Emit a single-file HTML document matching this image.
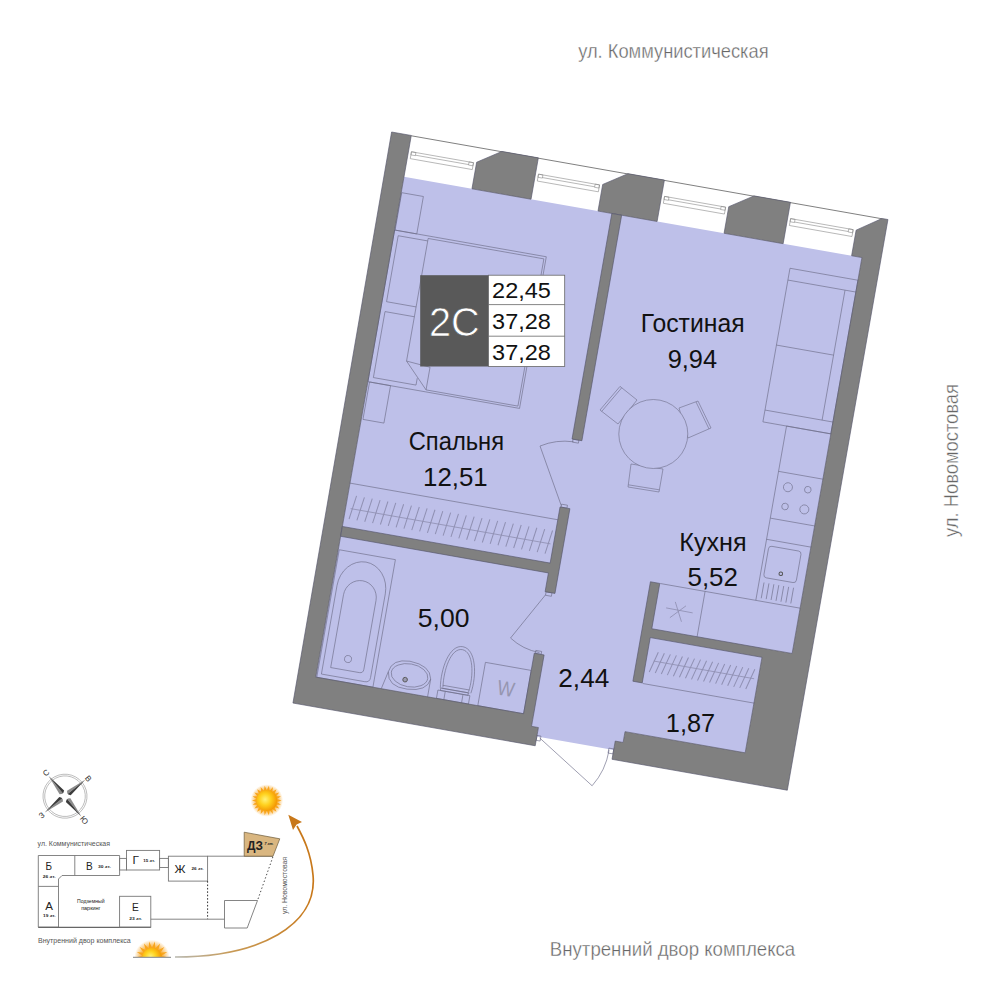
<!DOCTYPE html>
<html><head><meta charset="utf-8"><title>2С</title>
<style>html,body{margin:0;padding:0;background:#fff}svg{display:block}text{font-family:"Liberation Sans",sans-serif}</style>
</head><body>
<svg width="1000" height="1000" viewBox="0 0 1000 1000">
<rect width="1000" height="1000" fill="#fff"/>
<g transform="translate(391.6,132) rotate(10)">
<polygon points="20,42 485,42 485,444 456,444 456,550 334,550 334,561 326,561 326,570 248,570 248,561 241,561 241,550 20,550" fill="#bec0e9" stroke="none" stroke-width="0" />
<rect x="20.5" y="58" width="22" height="38" rx="0" fill="none" stroke="#6e6e8a" stroke-width="0.62"/>
<rect x="20" y="96" width="154" height="154" rx="0" fill="none" stroke="#6e6e8a" stroke-width="0.62"/>
<polyline points="54.5,223 54.5,98.5 172,98.5 172,248 78.7,248" fill="none" stroke="#6e6e8a" stroke-width="0.62"/>
<polygon points="54.5,223 78.7,225 78.7,248" fill="none" stroke="#6e6e8a" stroke-width="0.62"/>
<polyline points="54.5,101 24.5,101 24.5,168 54.5,168" fill="none" stroke="#6e6e8a" stroke-width="0.62"/>
<polyline points="54.5,178 24.7,178 24.7,245 68,245 68,238" fill="none" stroke="#6e6e8a" stroke-width="0.62"/>
<rect x="21.7" y="250" width="21.3" height="38" rx="0" fill="none" stroke="#6e6e8a" stroke-width="0.62"/>
<line x1="20" y1="353" x2="231" y2="353" stroke="#6e6e8a" stroke-width="0.62"/>
<line x1="25" y1="378" x2="228" y2="378" stroke="#8d8daf" stroke-width="0.75"/>
<line x1="28.7" y1="364.5" x2="25.3" y2="388.5" stroke="#8f8fb2" stroke-width="1.0"/>
<line x1="36.66" y1="364.5" x2="33.26" y2="388.5" stroke="#8f8fb2" stroke-width="1.0"/>
<line x1="44.62" y1="364.5" x2="41.22" y2="388.5" stroke="#8f8fb2" stroke-width="1.0"/>
<line x1="52.58" y1="364.5" x2="49.18" y2="388.5" stroke="#8f8fb2" stroke-width="1.0"/>
<line x1="60.54" y1="364.5" x2="57.14" y2="388.5" stroke="#8f8fb2" stroke-width="1.0"/>
<line x1="68.5" y1="364.5" x2="65.1" y2="388.5" stroke="#8f8fb2" stroke-width="1.0"/>
<line x1="76.46" y1="364.5" x2="73.06" y2="388.5" stroke="#8f8fb2" stroke-width="1.0"/>
<line x1="84.42" y1="364.5" x2="81.02" y2="388.5" stroke="#8f8fb2" stroke-width="1.0"/>
<line x1="92.38" y1="364.5" x2="88.98" y2="388.5" stroke="#8f8fb2" stroke-width="1.0"/>
<line x1="100.34" y1="364.5" x2="96.94" y2="388.5" stroke="#8f8fb2" stroke-width="1.0"/>
<line x1="108.3" y1="364.5" x2="104.9" y2="388.5" stroke="#8f8fb2" stroke-width="1.0"/>
<line x1="116.26" y1="364.5" x2="112.86" y2="388.5" stroke="#8f8fb2" stroke-width="1.0"/>
<line x1="124.22" y1="364.5" x2="120.82" y2="388.5" stroke="#8f8fb2" stroke-width="1.0"/>
<line x1="132.18" y1="364.5" x2="128.78" y2="388.5" stroke="#8f8fb2" stroke-width="1.0"/>
<line x1="140.14" y1="364.5" x2="136.74" y2="388.5" stroke="#8f8fb2" stroke-width="1.0"/>
<line x1="148.1" y1="364.5" x2="144.7" y2="388.5" stroke="#8f8fb2" stroke-width="1.0"/>
<line x1="156.06" y1="364.5" x2="152.66" y2="388.5" stroke="#8f8fb2" stroke-width="1.0"/>
<line x1="164.02" y1="364.5" x2="160.62" y2="388.5" stroke="#8f8fb2" stroke-width="1.0"/>
<line x1="171.98" y1="364.5" x2="168.58" y2="388.5" stroke="#8f8fb2" stroke-width="1.0"/>
<line x1="179.94" y1="364.5" x2="176.54" y2="388.5" stroke="#8f8fb2" stroke-width="1.0"/>
<line x1="187.9" y1="364.5" x2="184.5" y2="388.5" stroke="#8f8fb2" stroke-width="1.0"/>
<line x1="195.86" y1="364.5" x2="192.46" y2="388.5" stroke="#8f8fb2" stroke-width="1.0"/>
<line x1="203.82" y1="364.5" x2="200.42" y2="388.5" stroke="#8f8fb2" stroke-width="1.0"/>
<line x1="211.78" y1="364.5" x2="208.38" y2="388.5" stroke="#8f8fb2" stroke-width="1.0"/>
<line x1="219.74" y1="364.5" x2="216.34" y2="388.5" stroke="#8f8fb2" stroke-width="1.0"/>
<line x1="227.7" y1="364.5" x2="224.3" y2="388.5" stroke="#8f8fb2" stroke-width="1.0"/>
<rect x="416" y="65" width="69" height="156" rx="0" fill="none" stroke="#6e6e8a" stroke-width="0.62"/>
<line x1="416" y1="77" x2="485" y2="77" stroke="#6e6e8a" stroke-width="0.62"/>
<line x1="416" y1="209" x2="485" y2="209" stroke="#6e6e8a" stroke-width="0.62"/>
<line x1="474" y1="77" x2="474" y2="209" stroke="#6e6e8a" stroke-width="0.62"/>
<line x1="416" y1="143" x2="474" y2="143" stroke="#6e6e8a" stroke-width="0.62"/>
<polyline points="485,221 440,221 440,398 343,398" fill="none" stroke="#6e6e8a" stroke-width="0.62"/>
<line x1="440" y1="267" x2="485" y2="267" stroke="#6e6e8a" stroke-width="0.62"/>
<line x1="440" y1="314.5" x2="485" y2="314.5" stroke="#6e6e8a" stroke-width="0.62"/>
<line x1="440" y1="336" x2="485" y2="336" stroke="#6e6e8a" stroke-width="0.62"/>
<line x1="440" y1="398" x2="485" y2="398" stroke="#6e6e8a" stroke-width="0.62"/>
<circle cx="452" cy="281" r="4.5" fill="none" stroke="#6e6e8a" stroke-width="0.62"/>
<circle cx="472" cy="280" r="3.3" fill="none" stroke="#6e6e8a" stroke-width="0.62"/>
<circle cx="452.5" cy="300.5" r="3.3" fill="none" stroke="#6e6e8a" stroke-width="0.62"/>
<circle cx="472" cy="300" r="4.5" fill="none" stroke="#6e6e8a" stroke-width="0.62"/>
<rect x="443.5" y="342" width="33" height="32" rx="3" fill="none" stroke="#6e6e8a" stroke-width="0.62"/>
<circle cx="460" cy="367.5" r="1.8" fill="none" stroke="#555" stroke-width="1"/>
<line x1="445" y1="379" x2="445" y2="395" stroke="#6e6e8a" stroke-width="0.62"/>
<line x1="450" y1="379" x2="450" y2="395" stroke="#6e6e8a" stroke-width="0.62"/>
<line x1="455" y1="379" x2="455" y2="395" stroke="#6e6e8a" stroke-width="0.62"/>
<line x1="460" y1="379" x2="460" y2="395" stroke="#6e6e8a" stroke-width="0.62"/>
<line x1="465" y1="379" x2="465" y2="395" stroke="#6e6e8a" stroke-width="0.62"/>
<line x1="470" y1="379" x2="470" y2="395" stroke="#6e6e8a" stroke-width="0.62"/>
<line x1="475" y1="379" x2="475" y2="395" stroke="#6e6e8a" stroke-width="0.62"/>
<line x1="388.5" y1="398" x2="388.5" y2="444" stroke="#6e6e8a" stroke-width="0.62"/>
<line x1="353" y1="421" x2="380" y2="421.3" stroke="#8d8daf" stroke-width="0.75"/>
<line x1="358.4" y1="430" x2="372.2" y2="415.5" stroke="#8d8daf" stroke-width="0.75"/>
<line x1="361" y1="413.5" x2="370.5" y2="432" stroke="#8d8daf" stroke-width="0.75"/>
<line x1="343" y1="499.5" x2="457" y2="499.5" stroke="#6e6e8a" stroke-width="0.62"/>
<line x1="350" y1="475.5" x2="452" y2="475.5" stroke="#8d8daf" stroke-width="0.75"/>
<line x1="353" y1="466" x2="347.5" y2="487" stroke="#8f8fb2" stroke-width="1.0"/>
<line x1="359.125" y1="466" x2="353.625" y2="487" stroke="#8f8fb2" stroke-width="1.0"/>
<line x1="365.25" y1="466" x2="359.75" y2="487" stroke="#8f8fb2" stroke-width="1.0"/>
<line x1="371.375" y1="466" x2="365.875" y2="487" stroke="#8f8fb2" stroke-width="1.0"/>
<line x1="377.5" y1="466" x2="372" y2="487" stroke="#8f8fb2" stroke-width="1.0"/>
<line x1="383.625" y1="466" x2="378.125" y2="487" stroke="#8f8fb2" stroke-width="1.0"/>
<line x1="389.75" y1="466" x2="384.25" y2="487" stroke="#8f8fb2" stroke-width="1.0"/>
<line x1="395.875" y1="466" x2="390.375" y2="487" stroke="#8f8fb2" stroke-width="1.0"/>
<line x1="402" y1="466" x2="396.5" y2="487" stroke="#8f8fb2" stroke-width="1.0"/>
<line x1="408.125" y1="466" x2="402.625" y2="487" stroke="#8f8fb2" stroke-width="1.0"/>
<line x1="414.25" y1="466" x2="408.75" y2="487" stroke="#8f8fb2" stroke-width="1.0"/>
<line x1="420.375" y1="466" x2="414.875" y2="487" stroke="#8f8fb2" stroke-width="1.0"/>
<line x1="426.5" y1="466" x2="421" y2="487" stroke="#8f8fb2" stroke-width="1.0"/>
<line x1="432.625" y1="466" x2="427.125" y2="487" stroke="#8f8fb2" stroke-width="1.0"/>
<line x1="438.75" y1="466" x2="433.25" y2="487" stroke="#8f8fb2" stroke-width="1.0"/>
<line x1="444.875" y1="466" x2="439.375" y2="487" stroke="#8f8fb2" stroke-width="1.0"/>
<line x1="451" y1="466" x2="445.5" y2="487" stroke="#8f8fb2" stroke-width="1.0"/>
<rect x="21" y="420.5" width="57" height="129.5" rx="0" fill="none" stroke="#6e6e8a" stroke-width="0.62"/>
<path d="M25,546 L25,456 A24.5,28 0 0 1 74,456 L74,541 Q74,546 69,546 Z" fill="none" stroke="#6e6e8a" stroke-width="0.62"/>
<path d="M33,538 L33,464 A16.5,17 0 0 1 66,464 L66,534 Q66,538 62,538 Z" fill="none" stroke="#6e6e8a" stroke-width="0.62"/>
<circle cx="48.6" cy="526.6" r="3.5" fill="none" stroke="#6e6e8a" stroke-width="0.62"/>
<path d="M86.5,550 L90.5,532 Q92,518.5 110,518 Q131,518.5 133.5,532 L133.5,550" fill="none" stroke="#6e6e8a" stroke-width="0.62"/>
<path d="M90.5,532 Q92,547 112,546 Q132,545 133.5,532" fill="none" stroke="#6e6e8a" stroke-width="0.62"/>
<ellipse cx="112" cy="532" rx="18.5" ry="11.5" fill="none" stroke="#6e6e8a" stroke-width="0.62"/>
<circle cx="108.4" cy="537" r="2.3" fill="#9a9ab0" stroke="#555" stroke-width="0.9"/>
<path d="M144.5,539 C141.5,520 146,494.5 159.5,494.5 C173,494.5 178.5,520 175.5,539" fill="none" stroke="#6e6e8a" stroke-width="0.62"/>
<path d="M147,538 C144.5,521 148,497.5 159.5,497.5 C171,497.5 175.5,521 173,538" fill="none" stroke="#6e6e8a" stroke-width="0.62"/>
<line x1="146.5" y1="536" x2="173.5" y2="536" stroke="#6e6e8a" stroke-width="0.62"/>
<line x1="146" y1="539" x2="174" y2="539" stroke="#6e6e8a" stroke-width="0.62"/>
<rect x="142.5" y="541.5" width="32.5" height="8.5" rx="0" fill="none" stroke="#6e6e8a" stroke-width="0.62"/>
<rect x="145" y="539" width="28" height="2.5" rx="0" fill="none" stroke="#6e6e8a" stroke-width="0.62"/>
<line x1="150" y1="541.5" x2="150" y2="550" stroke="#6e6e8a" stroke-width="0.62"/>
<line x1="168" y1="541.5" x2="168" y2="550" stroke="#6e6e8a" stroke-width="0.62"/>
<rect x="184.5" y="506" width="46.5" height="44" rx="0" fill="none" stroke="#6e6e8a" stroke-width="0.62"/>
<rect x="232" y="271" width="6" height="3" rx="0" fill="none" stroke="#6e6e8a" stroke-width="0.62"/>
<rect x="232" y="337" width="6" height="3" rx="0" fill="none" stroke="#6e6e8a" stroke-width="0.62"/>
<path d="M232,338.5 L200.7,283.5 A64,64 0 0 1 233,273.5" fill="none" stroke="#6e6e8a" stroke-width="0.62"/>
<rect x="232" y="426" width="6" height="3.5" rx="0" fill="none" stroke="#6e6e8a" stroke-width="0.62"/>
<rect x="232" y="485.5" width="6" height="3" rx="0" fill="none" stroke="#6e6e8a" stroke-width="0.62"/>
<path d="M232,429 L205,477.7 A58,58 0 0 0 236,487" fill="none" stroke="#6e6e8a" stroke-width="0.62"/>
<path d="M251,571 L311,609 A71,71 0 0 0 321.5,571" fill="none" stroke="#6e6e8a" stroke-width="0.62"/>
<rect x="248" y="569" width="4" height="5" rx="0" fill="none" stroke="#6e6e8a" stroke-width="0.62"/>
<rect x="321" y="569" width="5" height="5" rx="0" fill="none" stroke="#6e6e8a" stroke-width="0.62"/>
<rect x="23" y="16" width="63" height="7" rx="0" fill="none" stroke="#858585" stroke-width="0.55"/>
<line x1="27.5" y1="18.7" x2="81.5" y2="18.7" stroke="#858585" stroke-width="0.55"/>
<rect x="23" y="16" width="4.5" height="3.2" rx="0" fill="none" stroke="#858585" stroke-width="0.55"/>
<rect x="81.5" y="16" width="4.5" height="3.2" rx="0" fill="none" stroke="#858585" stroke-width="0.55"/>
<rect x="152" y="16" width="62" height="7" rx="0" fill="none" stroke="#858585" stroke-width="0.55"/>
<line x1="156.5" y1="18.7" x2="209.5" y2="18.7" stroke="#858585" stroke-width="0.55"/>
<rect x="152" y="16" width="4.5" height="3.2" rx="0" fill="none" stroke="#858585" stroke-width="0.55"/>
<rect x="209.5" y="16" width="4.5" height="3.2" rx="0" fill="none" stroke="#858585" stroke-width="0.55"/>
<rect x="280" y="16" width="62" height="7" rx="0" fill="none" stroke="#858585" stroke-width="0.55"/>
<line x1="284.5" y1="18.7" x2="337.5" y2="18.7" stroke="#858585" stroke-width="0.55"/>
<rect x="280" y="16" width="4.5" height="3.2" rx="0" fill="none" stroke="#858585" stroke-width="0.55"/>
<rect x="337.5" y="16" width="4.5" height="3.2" rx="0" fill="none" stroke="#858585" stroke-width="0.55"/>
<rect x="408" y="16" width="63.5" height="7" rx="0" fill="none" stroke="#858585" stroke-width="0.55"/>
<line x1="412.5" y1="18.7" x2="467" y2="18.7" stroke="#858585" stroke-width="0.55"/>
<rect x="408" y="16" width="4.5" height="3.2" rx="0" fill="none" stroke="#858585" stroke-width="0.55"/>
<rect x="467" y="16" width="4.5" height="3.2" rx="0" fill="none" stroke="#858585" stroke-width="0.55"/>
<line x1="20" y1="0.3" x2="498" y2="0.3" stroke="#555" stroke-width="0.7"/>
<polygon points="0,0 20,0 20,550 231,550 231,488.5 241,488.5 241,561 248,561 248,579.5 2,579.5" fill="#808080" stroke="#55556a" stroke-width="0.6" />
<polygon points="89,15 112,0 149,0 149,42 89,42" fill="#808080" stroke="#55556a" stroke-width="0.6" />
<polygon points="217,15 240,0 277,0 277,42 217,42" fill="#808080" stroke="#55556a" stroke-width="0.6" />
<polygon points="345,15 368,0 405,0 405,42 345,42" fill="#808080" stroke="#55556a" stroke-width="0.6" />
<polygon points="474.5,16 498,0 504,0 504,579.5 326,579.5 326,561 334,561 334,550 456,550 456,453 342.5,453 342.5,499 333,499 333,398 342.5,398 342.5,444 485,444 485,42 474.5,42" fill="#808080" stroke="#55556a" stroke-width="0.6" />
<polygon points="231,42 241,42 241,271 231,271" fill="#808080" stroke="#55556a" stroke-width="0.6" />
<polygon points="231,340 241,340 241,426 231,426 231,407 20,407 20,397 231,397" fill="#808080" stroke="#55556a" stroke-width="0.6" />
</g>
<polygon points="620,386.4 600,410 618,424 637,400" fill="#bec0e9" stroke="#6e6e8a" stroke-width="0.62" /><line x1="621.678" y1="387.822" x2="601.678" y2="411.422" stroke="#6e6e8a" stroke-width="0.62"/>
<polygon points="679,408 698,401 711,428 688,438" fill="#bec0e9" stroke="#6e6e8a" stroke-width="0.62" /><line x1="696.018" y1="401.954" x2="709.018" y2="428.954" stroke="#6e6e8a" stroke-width="0.62"/>
<polygon points="631,464 663,469 659,492 628,487" fill="#bec0e9" stroke="#6e6e8a" stroke-width="0.62" /><line x1="659.35" y1="489.828" x2="628.35" y2="484.828" stroke="#6e6e8a" stroke-width="0.62"/>
<circle cx="653.3" cy="434" r="34.5" fill="#bec0e9" stroke="#6e6e8a" stroke-width="0.62"/>
<rect x="420.2" y="275.2" width="68.3" height="91.3" fill="#595959"/>
<rect x="488.5" y="275.2" width="76.2" height="91.3" fill="#fff" stroke="#666" stroke-width="0.8"/>
<line x1="488.5" y1="304.6" x2="564.7" y2="304.6" stroke="#666" stroke-width="0.8"/>
<line x1="488.5" y1="336.2" x2="564.7" y2="336.2" stroke="#666" stroke-width="0.8"/>
<text x="428.90" y="335.6" font-size="41" textLength="50.86" lengthAdjust="spacingAndGlyphs" fill="#fff" font-weight="normal" stroke="#595959" stroke-width="0.7">2С</text>
<text x="492.12" y="297.6" font-size="22.4" textLength="58.76" lengthAdjust="spacingAndGlyphs" fill="#111" font-weight="normal" >22,45</text>
<text x="492.12" y="328.8" font-size="22.4" textLength="58.76" lengthAdjust="spacingAndGlyphs" fill="#111" font-weight="normal" >37,28</text>
<text x="492.12" y="360.2" font-size="22.4" textLength="58.76" lengthAdjust="spacingAndGlyphs" fill="#111" font-weight="normal" >37,28</text>
<text x="408.73" y="450.4" font-size="26.3" textLength="95.35" lengthAdjust="spacingAndGlyphs" fill="#111" font-weight="normal" >Спальня</text>
<text x="423.05" y="485.8" font-size="26" textLength="64.64" lengthAdjust="spacingAndGlyphs" fill="#111" font-weight="normal" >12,51</text>
<text x="640.71" y="332.4" font-size="26.3" textLength="103.96" lengthAdjust="spacingAndGlyphs" fill="#111" font-weight="normal" >Гостиная</text>
<text x="667.73" y="367.6" font-size="26" textLength="49.36" lengthAdjust="spacingAndGlyphs" fill="#111" font-weight="normal" >9,94</text>
<text x="679.22" y="550.8" font-size="26.3" textLength="67.36" lengthAdjust="spacingAndGlyphs" fill="#111" font-weight="normal" >Кухня</text>
<text x="687.47" y="585.8" font-size="26" textLength="50.43" lengthAdjust="spacingAndGlyphs" fill="#111" font-weight="normal" >5,52</text>
<text x="417.86" y="626.6" font-size="26" textLength="51.66" lengthAdjust="spacingAndGlyphs" fill="#111" font-weight="normal" >5,00</text>
<text x="558.32" y="687.2" font-size="26" textLength="50.93" lengthAdjust="spacingAndGlyphs" fill="#111" font-weight="normal" >2,44</text>
<text x="665.81" y="732" font-size="26" textLength="49.31" lengthAdjust="spacingAndGlyphs" fill="#111" font-weight="normal" >1,87</text>
<text transform="translate(506,688.6) rotate(10)" x="-8.6" y="7.2" font-size="21" textLength="17.2" lengthAdjust="spacingAndGlyphs" fill="#9696b0">W</text>
<text x="578.18" y="57.8" font-size="19.8" textLength="190.44" lengthAdjust="spacingAndGlyphs" fill="#666" font-weight="normal" stroke="#fff" stroke-width="0.35">ул. Коммунистическая</text>
<text x="549.79" y="956.2" font-size="19.8" textLength="245.42" lengthAdjust="spacingAndGlyphs" fill="#666" font-weight="normal" stroke="#fff" stroke-width="0.35">Внутренний двор комплекса</text>
<g transform="translate(958.3,536) rotate(-90)"><text x="-1.01" y="0" font-size="19.8" textLength="153.03" lengthAdjust="spacingAndGlyphs" fill="#666" font-weight="normal" stroke="#fff" stroke-width="0.35">ул. Новомостовая</text></g>
<g transform="translate(65,796.2) rotate(-39)"><circle r="22" fill="none" stroke="#777" stroke-width="0.45"/><circle r="20.3" fill="none" stroke="#777" stroke-width="0.45"/><g transform="rotate(0)"><polygon points="0,-26 -2.9,-5 0,-3" fill="#8c8c8c"/><polygon points="0,-26 2.9,-5 0,-3" fill="#3c3c3c"/></g><g transform="rotate(90)"><polygon points="0,-26 -2.9,-5 0,-3" fill="#8c8c8c"/><polygon points="0,-26 2.9,-5 0,-3" fill="#3c3c3c"/></g><g transform="rotate(180)"><polygon points="0,-26 -2.9,-5 0,-3" fill="#8c8c8c"/><polygon points="0,-26 2.9,-5 0,-3" fill="#3c3c3c"/></g><g transform="rotate(270)"><polygon points="0,-26 -2.9,-5 0,-3" fill="#8c8c8c"/><polygon points="0,-26 2.9,-5 0,-3" fill="#3c3c3c"/></g><circle r="3.6" fill="#fff"/><text transform="translate(0,-27.5) rotate(0)" font-size="8" text-anchor="middle" fill="#333">С</text><text transform="translate(-30.2,3) rotate(0)" font-size="8" text-anchor="middle" fill="#333">З</text><text transform="translate(26.4,-1.7) rotate(90)" font-size="8" text-anchor="start" fill="#333">В</text><text transform="translate(-2.9,26.7) rotate(90)" font-size="8" text-anchor="start" fill="#333">Ю</text></g>
<path d="M38.3,855.5 H119.6 V875.5 H62 L58.5,879 V927.2 H38.3 Z" fill="none" stroke="#777" stroke-width="0.9"/>
<line x1="74.8" y1="855.5" x2="74.8" y2="875.5" stroke="#777" stroke-width="0.9"/>
<line x1="38.3" y1="886.4" x2="58.5" y2="886.4" stroke="#777" stroke-width="0.9"/>
<line x1="38.3" y1="927.4" x2="150.8" y2="927.4" stroke="#666" stroke-width="1.3"/>
<rect x="119.6" y="896.3" width="31.2" height="30.9" fill="none" stroke="#777" stroke-width="0.9"/>
<rect x="126.5" y="850.4" width="33.1" height="19.6" fill="none" stroke="#777" stroke-width="0.9"/>
<rect x="119.6" y="858.4" width="6.9" height="11.6" fill="none" stroke="#777" stroke-width="0.9"/>
<rect x="159.6" y="858.4" width="8.8" height="9.1" fill="none" stroke="#777" stroke-width="0.9"/>
<rect x="168.4" y="856.2" width="39.2" height="24.9" fill="none" stroke="#777" stroke-width="0.9"/>
<line x1="207.6" y1="856.2" x2="273" y2="856.2" stroke="#777" stroke-width="0.9"/>
<line x1="207.6" y1="881.1" x2="207.6" y2="919.2" stroke="#333" stroke-width="1" stroke-dasharray="1.6,1.8"/>
<line x1="150.8" y1="919.2" x2="224.5" y2="919.2" stroke="#777" stroke-width="0.9"/>
<polygon points="224.5,900.5 257.5,900.5 247.2,928 224.5,928" fill="none" stroke="#777" stroke-width="0.9"/>
<line x1="272.9" y1="856.9" x2="257.5" y2="900.5" stroke="#333" stroke-width="0.9" stroke-dasharray="1.4,2.2"/>
<polygon points="244.2,832.2 279.8,838.8 273,856.2 244.2,856.2" fill="#d9b680" stroke="#6b5a3a" stroke-width="0.7"/>
<text x="45.50" y="869.6" font-size="11.8" textLength="6.50" lengthAdjust="spacingAndGlyphs" fill="#222" font-weight="normal" >Б</text>
<text x="86.00" y="869.6" font-size="11.8" textLength="6.70" lengthAdjust="spacingAndGlyphs" fill="#222" font-weight="normal" >В</text>
<text x="132.40" y="863.7" font-size="11.8" textLength="6.40" lengthAdjust="spacingAndGlyphs" fill="#222" font-weight="normal" >Г</text>
<text x="174.60" y="873" font-size="11.8" textLength="11.00" lengthAdjust="spacingAndGlyphs" fill="#222" font-weight="normal" >Ж</text>
<text x="45.20" y="909.6" font-size="11.8" textLength="7.70" lengthAdjust="spacingAndGlyphs" fill="#222" font-weight="normal" >А</text>
<text x="132.00" y="911.2" font-size="11.8" textLength="6.80" lengthAdjust="spacingAndGlyphs" fill="#222" font-weight="normal" >Е</text>
<text x="247.00" y="850" font-size="12.6" textLength="16.00" lengthAdjust="spacingAndGlyphs" fill="#222" font-weight="bold" >ДЗ</text>
<text x="42.80" y="877.9" font-size="3.9" textLength="12.80" lengthAdjust="spacingAndGlyphs" fill="#222" font-weight="bold" >26 эт.</text>
<text x="98.00" y="867.8" font-size="3.9" textLength="12.80" lengthAdjust="spacingAndGlyphs" fill="#222" font-weight="bold" >30 эт.</text>
<text x="143.30" y="861.7" font-size="3.9" textLength="11.70" lengthAdjust="spacingAndGlyphs" fill="#222" font-weight="bold" >15 эт.</text>
<text x="191.50" y="870" font-size="3.9" textLength="12.10" lengthAdjust="spacingAndGlyphs" fill="#222" font-weight="bold" >26 эт.</text>
<text x="43.00" y="916.6" font-size="3.9" textLength="12.60" lengthAdjust="spacingAndGlyphs" fill="#222" font-weight="bold" >19 эт.</text>
<text x="129.20" y="919.8" font-size="3.9" textLength="12.80" lengthAdjust="spacingAndGlyphs" fill="#222" font-weight="bold" >23 эт.</text>
<text x="264.50" y="845" font-size="3.4" textLength="9.00" lengthAdjust="spacingAndGlyphs" fill="#222" font-weight="bold" font-style="italic">7 эт.</text>
<text x="77.00" y="902.8" font-size="4.6" textLength="27.60" lengthAdjust="spacingAndGlyphs" fill="#222" font-weight="normal" >Подземный</text>
<text x="81.20" y="910" font-size="4.6" textLength="19.30" lengthAdjust="spacingAndGlyphs" fill="#222" font-weight="normal" >паркинг</text>
<text x="37.60" y="845.6" font-size="6.6" textLength="72.40" lengthAdjust="spacingAndGlyphs" fill="#555" font-weight="normal" >ул. Коммунистическая</text>
<text x="38.00" y="943.2" font-size="6.6" textLength="92.80" lengthAdjust="spacingAndGlyphs" fill="#555" font-weight="normal" >Внутренний двор комплекса</text>
<g transform="translate(287.2,914) rotate(-90)"><text x="0.00" y="0" font-size="6.6" textLength="57.00" lengthAdjust="spacingAndGlyphs" fill="#555" font-weight="normal" >ул. Новомостовая</text></g>
<defs>
<radialGradient id="sunc" cx="42%" cy="45%" r="60%"><stop offset="0" stop-color="#fff27a"/><stop offset="0.45" stop-color="#ffd21f"/><stop offset="1" stop-color="#f39200"/></radialGradient>
<radialGradient id="sunh" cx="50%" cy="50%" r="50%"><stop offset="0.55" stop-color="#f7a11a" stop-opacity="0.9"/><stop offset="1" stop-color="#f7a11a" stop-opacity="0"/></radialGradient>
<linearGradient id="arcg" gradientUnits="userSpaceOnUse" x1="175" y1="957" x2="300" y2="880"><stop offset="0" stop-color="#b8b8b0"/><stop offset="0.35" stop-color="#c89a55"/><stop offset="1" stop-color="#c8781a"/></linearGradient>
<clipPath id="half"><rect x="130" y="930" width="50" height="27.2"/></clipPath>
</defs>
<circle cx="266.8" cy="800.5" r="16.3" fill="url(#sunh)"/><polygon points="281.60,800.50 276.99,801.96 281.00,804.67 276.16,804.77 279.25,808.50 274.58,807.24 276.49,811.69 272.36,809.16 272.95,813.96 269.70,810.37 268.91,815.15 266.80,810.79 264.69,815.15 263.90,810.37 260.65,813.96 261.24,809.16 257.11,811.69 259.02,807.24 254.35,808.50 257.44,804.77 252.60,804.67 256.61,801.96 252.00,800.50 256.61,799.04 252.60,796.33 257.44,796.23 254.35,792.50 259.02,793.76 257.11,789.31 261.24,791.84 260.65,787.04 263.90,790.63 264.69,785.85 266.80,790.21 268.91,785.85 269.70,790.63 272.95,787.04 272.36,791.84 276.49,789.31 274.58,793.76 279.25,792.50 276.16,796.23 281.00,796.33 276.99,799.04" fill="#f8a51c"/><circle cx="266.8" cy="800.5" r="10.5" fill="url(#sunc)"/>
<g clip-path="url(#half)"><circle cx="152" cy="957.5" r="17.7" fill="url(#sunh)"/><polygon points="168.20,957.50 161.46,959.17 167.22,963.04 160.32,962.30 164.41,967.91 158.17,964.86 160.10,971.53 155.28,966.52 154.81,973.45 152.00,967.10 149.19,973.45 148.72,966.52 143.90,971.53 145.83,964.86 139.59,967.91 143.68,962.30 136.78,963.04 142.54,959.17 135.80,957.50 142.54,955.83 136.78,951.96 143.68,952.70 139.59,947.09 145.83,950.14 143.90,943.47 148.72,948.48 149.19,941.55 152.00,947.90 154.81,941.55 155.28,948.48 160.10,943.47 158.17,950.14 164.41,947.09 160.32,952.70 167.22,951.96 161.46,955.83" fill="#f8a51c"/><circle cx="152" cy="957.5" r="9.8" fill="url(#sunc)"/></g>
<line x1="133" y1="957.3" x2="171" y2="957.3" stroke="#9a9a9a" stroke-width="1.3"/>
<path d="M175,957 C 260,957 318,925 313,875 C 311,853 303.5,838 297,826" fill="none" stroke="url(#arcg)" stroke-width="1.7"/>
<polygon points="288.3,814.8 302,822 296.6,824.6 293,830" fill="#c8781a"/>
</svg>
</body></html>
